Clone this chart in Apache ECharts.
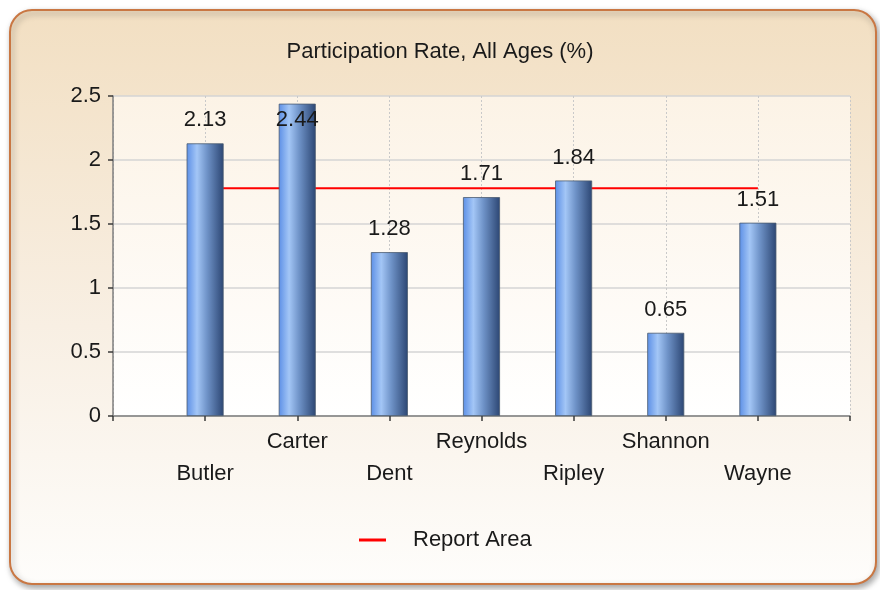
<!DOCTYPE html>
<html>
<head>
<meta charset="utf-8">
<script src="https://cdn.jsdelivr.net/npm/echarts@6/dist/echarts.min.js"></script>
<style>
html,body{margin:0;padding:0;background:#ffffff;}
#chart{width:880px;height:590px;}
</style>
</head>
<body>
<div id="chart"></div>
<script>
const titleText = 'Participation Rate, All Ages (%)';
const categories = ['Butler', 'Carter', 'Dent', 'Reynolds', 'Ripley', 'Shannon', 'Wayne'];
const rateValues = [2.13, 2.44, 1.28, 1.71, 1.84, 0.65, 1.51];
const reportAreaValues = [1.78, 1.78, 1.78, 1.78, 1.78, 1.78, 1.78];
const reportAreaName = 'Report Area';
const yTicks = { min: 0, max: 2.5, interval: 0.5 };

// padded category axis: an empty slot on each side
const axisCats = [''].concat(categories, ['']);
const pad = v => [null].concat(v, [null]);

const FONT = '"Liberation Sans", Arial, sans-serif';
const FS = 22;

const barGradient = new echarts.graphic.LinearGradient(0, 0, 1, 0, [
  { offset: 0, color: '#5c8fe6' },
  { offset: 0.28, color: '#a3c6f6' },
  { offset: 0.55, color: '#6f93c8' },
  { offset: 1, color: '#2c4673' }
]);

const barData = pad(rateValues).map(v => {
  if (v === null) return null;
  const inside = v > yTicks.max - 0.2;
  return {
    value: v,
    label: inside ? { position: 'insideTop', distance: 5 } : {}
  };
});

const chart = echarts.init(document.getElementById('chart'), null, { renderer: 'canvas' });
chart.setOption({
  animation: false,
  backgroundColor: 'transparent',
  graphic: [{
    type: 'rect',
    z: -10,
    shape: { x: 10, y: 10, width: 866, height: 574, r: 22 },
    style: {
      fill: new echarts.graphic.LinearGradient(0, 0, 0, 1, [
        { offset: 0, color: '#f2dfc2' },
        { offset: 0.55, color: '#f8efe3' },
        { offset: 1, color: '#fefdfb' }
      ]),
      stroke: '#c97743',
      lineWidth: 2,
      shadowBlur: 6,
      shadowOffsetX: 2,
      shadowOffsetY: 3,
      shadowColor: 'rgba(0,0,0,0.35)'
    }
  }],
  title: {
    text: titleText,
    left: 'center',
    top: 36,
    textStyle: { fontFamily: FONT, fontSize: FS, fontWeight: 'normal', color: '#1a1a1a' }
  },
  legend: {
    left: 354,
    top: 524,
    icon: 'rect',
    itemWidth: 27,
    itemHeight: 3,
    data: [reportAreaName],
    textStyle: { fontFamily: FONT, fontSize: FS, color: '#1a1a1a', padding: [0, 0, 0, 22] }
  },
  grid: {
    left: 113, right: 30, top: 96, bottom: 174,
    show: true,
    borderWidth: 0,
    backgroundColor: new echarts.graphic.LinearGradient(0, 0, 0, 1, [
      { offset: 0, color: '#fcf3e6' },
      { offset: 1, color: '#ffffff' }
    ])
  },
  xAxis: {
    type: 'category',
    data: axisCats,
    boundaryGap: false,
    axisLine: { lineStyle: { color: '#7f7f7f', width: 1.5 } },
    axisTick: { show: true, length: 5, lineStyle: { color: '#3a3a3a', width: 1.5 }, interval: 0 },
    axisLabel: {
      interval: 0,
      margin: 10,
      fontFamily: FONT,
      fontSize: FS,
      color: '#1a1a1a',
      lineHeight: 32,
      formatter: (v, i) => (i % 2 === 1 ? '\n' + v : v)
    },
    splitLine: { show: true, interval: 0, lineStyle: { color: '#c9c9c9', type: [2, 2], width: 1 } }
  },
  yAxis: {
    type: 'value',
    min: yTicks.min,
    max: yTicks.max,
    interval: yTicks.interval,
    axisLine: { show: true, lineStyle: { color: '#7f7f7f', width: 1.5 } },
    axisTick: { show: true, length: 5, lineStyle: { color: '#3a3a3a', width: 1.5 } },
    axisLabel: { margin: 12, fontFamily: FONT, fontSize: FS, color: '#1a1a1a' },
    splitLine: { lineStyle: { color: '#d4d4d4', width: 1.5 } }
  },
  series: [
    {
      name: reportAreaName,
      type: 'line',
      data: pad(reportAreaValues),
      symbol: 'none',
      z: 1,
      lineStyle: { color: '#ff0000', width: 2 },
      itemStyle: { color: '#ff0000' }
    },
    {
      name: 'Rate',
      type: 'bar',
      data: barData,
      barWidth: 37,
      z: 3,
      itemStyle: { color: barGradient, borderColor: '#4a5a70', borderWidth: 0.8 },
      label: {
        show: true,
        position: 'top',
        distance: 12,
        fontFamily: FONT,
        fontSize: FS,
        color: '#1a1a1a'
      }
    }
  ]
});
</script>
</body>
</html>
